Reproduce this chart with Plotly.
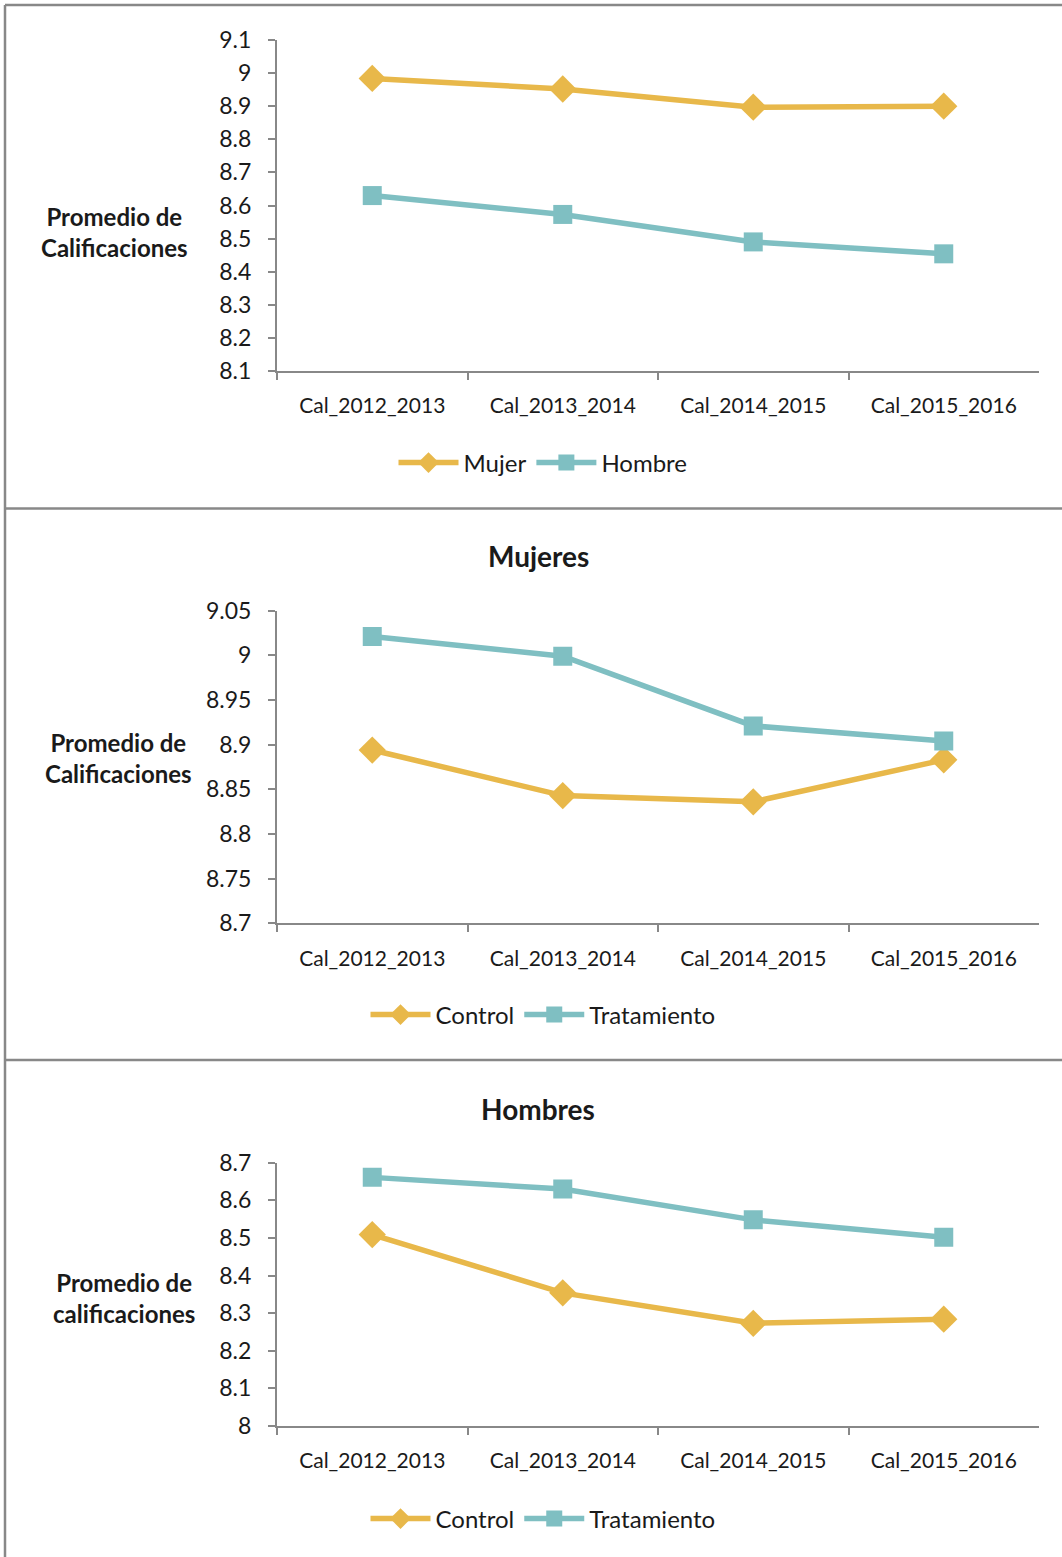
import plotly.graph_objects as go

W, H = 1062, 1557

categories = ["Cal_2012_2013", "Cal_2013_2014", "Cal_2014_2015", "Cal_2015_2016"]

# Panel 1: by sex
mujer = [8.984, 8.952, 8.897, 8.900]
hombre = [8.630, 8.573, 8.490, 8.454]
p1_ticks = [8.1, 8.2, 8.3, 8.4, 8.5, 8.6, 8.7, 8.8, 8.9, 9.0, 9.1]
p1_labels = ["8.1", "8.2", "8.3", "8.4", "8.5", "8.6", "8.7", "8.8", "8.9", "9", "9.1"]

# Panel 2: Mujeres
muj_control = [8.894, 8.843, 8.836, 8.883]
muj_trat = [9.021, 8.999, 8.921, 8.904]
p2_ticks = [8.7, 8.75, 8.8, 8.85, 8.9, 8.95, 9.0, 9.05]
p2_labels = ["8.7", "8.75", "8.8", "8.85", "8.9", "8.95", "9", "9.05"]

# Panel 3: Hombres
hom_control = [8.509, 8.354, 8.273, 8.284]
hom_trat = [8.661, 8.630, 8.548, 8.502]
p3_ticks = [8.0, 8.1, 8.2, 8.3, 8.4, 8.5, 8.6, 8.7]
p3_labels = ["8", "8.1", "8.2", "8.3", "8.4", "8.5", "8.6", "8.7"]

YEL = "#E8B84A"
TEAL = "#7FBFC2"
GRAY = "#888888"
FONT = "Lato"
TXT = "#1a1a1a"


def px_x(x):
    return x / W


def px_y(y):
    return 1 - y / H


fig = go.Figure()


def add_series(vals, name, color, symbol, msize, xa, ya, legend):
    fig.add_trace(go.Scatter(
        x=categories, y=vals, name=name, mode="lines+markers",
        line=dict(color=color, width=5.5),
        marker=dict(color=color, symbol=symbol, size=msize),
        xaxis=xa, yaxis=ya, legend=legend,
    ))


add_series(mujer, "Mujer", YEL, "diamond", 21, "x", "y", "legend")
add_series(hombre, "Hombre", TEAL, "square", 19, "x", "y", "legend")
add_series(muj_control, "Control", YEL, "diamond", 21, "x2", "y2", "legend2")
add_series(muj_trat, "Tratamiento", TEAL, "square", 19, "x2", "y2", "legend2")
add_series(hom_control, "Control", YEL, "diamond", 21, "x3", "y3", "legend3")
add_series(hom_trat, "Tratamiento", TEAL, "square", 19, "x3", "y3", "legend3")

xdom = [px_x(277), px_x(1039)]
panels = [
    (40, 371, [8.1, 9.1], p1_ticks, p1_labels),
    (610.7, 923.3, [8.7, 9.05], p2_ticks, p2_labels),
    (1162.7, 1426, [8.0, 8.7], p3_ticks, p3_labels),
]

layout = dict(
    width=W, height=H,
    margin=dict(l=0, r=0, t=0, b=0, pad=0, autoexpand=False),
    paper_bgcolor="white", plot_bgcolor="white",
    font=dict(family=FONT, color=TXT),
)

for i, (ytop, ybot, rng, tv, tt) in enumerate(panels):
    sfx = "" if i == 0 else str(i + 1)
    layout["xaxis" + sfx] = dict(
        domain=xdom, anchor="y" + sfx, type="category",
        range=[-0.5, 3.5], tickson="boundaries",
        showline=True, linecolor=GRAY, linewidth=2,
        ticks="outside", ticklen=7, tickcolor=GRAY, tickwidth=2,
        showgrid=False, zeroline=False,
        tickfont=dict(size=21, family=FONT, color=TXT),
        ticklabelstandoff=15,
    )
    layout["yaxis" + sfx] = dict(
        domain=[px_y(ybot), px_y(ytop)], anchor="x" + sfx,
        range=rng, tickvals=tv, ticktext=tt,
        showline=True, linecolor=GRAY, linewidth=2,
        ticks="outside", ticklen=7, tickcolor=GRAY, tickwidth=2,
        showgrid=False, zeroline=False,
        tickfont=dict(size=23, family=FONT, color=TXT),
        ticklabelstandoff=12,
    )

legend_style = dict(
    orientation="h", xanchor="center", yanchor="middle",
    font=dict(size=24, family=FONT, color=TXT),
    itemwidth=60, tracegroupgap=0, bgcolor="rgba(0,0,0,0)",
)
layout["legend"] = dict(x=px_x(543), y=px_y(463), **legend_style)
layout["legend2"] = dict(x=px_x(543), y=px_y(1015), **legend_style)
layout["legend3"] = dict(x=px_x(543), y=px_y(1519), **legend_style)

fig.update_layout(**layout)

# Axis titles (horizontal) and panel titles
ann = [
    ("<b>Promedio de<br>Calificaciones</b>", 114, 232, 24),
    ("<b>Promedio de<br>Calificaciones</b>", 118, 758, 24),
    ("<b>Promedio de<br>calificaciones</b>", 124, 1298, 24),
    ("<b>Mujeres</b>", 538, 556, 28),
    ("<b>Hombres</b>", 538, 1109, 28),
]
for text, x, y, s in ann:
    fig.add_annotation(
        text=text, x=px_x(x), y=px_y(y), xref="paper", yref="paper",
        showarrow=False, xanchor="center", yanchor="middle",
        font=dict(size=s, family=FONT, color=TXT), align="center",
    )

# Panel borders
for y in [5, 508.5, 1060]:
    fig.add_shape(type="line", xref="paper", yref="paper",
                  x0=px_x(5), x1=1.0, y0=px_y(y), y1=px_y(y),
                  line=dict(color=GRAY, width=2.5))
fig.add_shape(type="line", xref="paper", yref="paper",
              x0=px_x(5), x1=px_x(5), y0=px_y(5), y1=0,
              line=dict(color=GRAY, width=2.5))

post = (
    "document.body.style.margin='0';"
    "document.body.style.overflow='hidden';"
    "var d=document.getElementById('{plot_id}');"
    "d.style.position='fixed';d.style.left='0px';d.style.top='0px';"
)
fig.write_html("out.html", post_script=post, config={"displayModeBar": False})
